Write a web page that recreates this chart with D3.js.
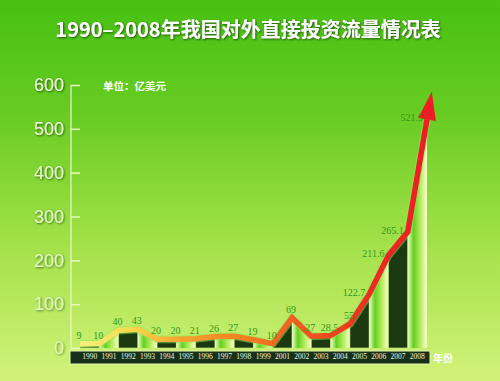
<!DOCTYPE html>
<html>
<head>
<meta charset="utf-8">
<script src="https://cdn.jsdelivr.net/npm/d3@7"></script>
<style>
  body { margin: 0; }
  svg { display: block; }
</style>
</head>
<body>
<div id="chart"></div>
<script>
// data (亿美元)
const years = [1990, 1991, 1992, 1993, 1994, 1995, 1996, 1997, 1998, 1999,
               2000, 2001, 2002, 2003, 2004, 2005, 2006, 2007, 2008];
const values = [9, 10, 40, 43, 20, 20, 21, 26, 27, 19,
                10, 69, 27, 28.5, 55, 122.7, 211.6, 265.1, 521.5];
const valueLabels = ["9", "10", "40", "43", "20", "20", "21", "26", "27", "19",
                     "10", "69", "27", "28.5", "55", "122.7", "211.6", "265.1", "521.5"];
// the strip under the chart has one label per stripe (no 2000)
const stripLabels = ["1990", "1991", "1992", "1993", "1994", "1995", "1996", "1997", "1998",
                     "1999", "2001", "2002", "2003", "2004", "2005", "2006", "2007", "2008"];
const yTicks = [0, 100, 200, 300, 400, 500, 600];

const W = 500, H = 381;
const svg = d3.select("#chart").append("svg")
  .attr("width", W)
  .attr("height", H);

const defs = svg.append("defs");

// background
const bg = defs.append("linearGradient").attr("id", "bg")
  .attr("x1", 0).attr("y1", 0).attr("x2", 0).attr("y2", 1);
bg.append("stop").attr("offset", "0").attr("stop-color", "#47c112");
bg.append("stop").attr("offset", "0.3").attr("stop-color", "#68cc22");
bg.append("stop").attr("offset", "0.65").attr("stop-color", "#a4e24a");
bg.append("stop").attr("offset", "1").attr("stop-color", "#d2f27a");

// light stripe
const lg = defs.append("linearGradient").attr("id", "lightStripe")
  .attr("x1", 0).attr("y1", 0).attr("x2", 1).attr("y2", 0);
lg.append("stop").attr("offset", "0").attr("stop-color", "#f4ffc4");
lg.append("stop").attr("offset", "0.3").attr("stop-color", "#62d020");
lg.append("stop").attr("offset", "0.65").attr("stop-color", "#b4ec5c");
lg.append("stop").attr("offset", "1").attr("stop-color", "#fbffd0");

const shadow = defs.append("filter").attr("id", "shadow")
  .attr("x", "-10%").attr("y", "-30%").attr("width", "120%").attr("height", "160%");
shadow.append("feDropShadow").attr("dx", 1).attr("dy", 1).attr("stdDeviation", 0.8)
  .attr("flood-color", "#1d4a08").attr("flood-opacity", 0.9);

svg.append("rect").attr("width", W).attr("height", H).attr("fill", "url(#bg)");

const x = d3.scalePoint().domain(years).range([80, 427]);
const y = d3.scaleLinear().domain([0, 600]).range([348, 85]);

// line colour gradient along x
const lineGrad = defs.append("linearGradient").attr("id", "lineGrad")
  .attr("gradientUnits", "userSpaceOnUse")
  .attr("x1", x(1990)).attr("y1", 0).attr("x2", x(2008)).attr("y2", 0);
[["0", "#f6f27c"], ["0.15", "#f7d84a"], ["0.3", "#f6a030"], ["0.5", "#f27a22"],
 ["0.7", "#f04a20"], ["0.85", "#ee2a22"], ["1", "#ee1c24"]].forEach(s =>
  lineGrad.append("stop").attr("offset", s[0]).attr("stop-color", s[1]));

// title
svg.append("text")
  .attr("x", 248).attr("y", 37)
  .attr("text-anchor", "middle")
  .attr("font-family", "'Noto Sans CJK SC', sans-serif")
  .attr("font-size", 20)
  .attr("font-weight", "bold")
  .attr("fill", "#ffffff")
  .attr("filter", "url(#shadow)")
  .text("1990–2008年我国对外直接投资流量情况表");

svg.append("text")
  .attr("x", 103).attr("y", 90)
  .attr("font-family", "'Noto Sans CJK SC', sans-serif")
  .attr("font-size", 10.5)
  .attr("font-weight", "bold")
  .attr("fill", "#ffffff")
  .text("单位：亿美元");

// y axis
const yAxis = svg.append("g")
  .attr("transform", "translate(71,0)")
  .call(d3.axisLeft(y).tickValues(yTicks).tickSize(-9).tickPadding(7));
yAxis.select(".domain").attr("stroke", "#eaf8c4").attr("stroke-width", 1.2)
  .attr("d", "M0,85V350");
yAxis.selectAll(".tick line").attr("stroke", "#eaf8c4").attr("stroke-width", 1.5);
yAxis.selectAll(".tick text")
  .attr("fill", "#f3fde2")
  .attr("font-family", "'Liberation Sans', Arial, sans-serif")
  .attr("font-size", 18)
  .attr("filter", "url(#shadow)")
  .attr("opacity", d => 0.65 + d / 1700);

// stripes under the line
const area = d3.area()
  .x(d => x(d.year))
  .y0(y(0))
  .y1(d => y(d.value));
const pts = years.map((yr, i) => ({ year: yr, value: values[i] }));
const stripes = d3.range(stripLabels.length).map(k => [pts[k], pts[k + 1]]);

svg.append("g").selectAll("path")
  .data(stripes)
  .join("path")
  .attr("d", area)
  .attr("fill", (d, k) => k % 2 === 0 ? "#1b3a12" : "url(#lightStripe)")
  .attr("stroke", (d, k) => k % 2 === 0 ? "#d8f48a" : "none")
  .attr("stroke-width", 0.6);

// x strip
svg.append("rect")
  .attr("x", 70).attr("y", 351)
  .attr("width", 360).attr("height", 13)
  .attr("fill", "#17301a")
  .attr("stroke", "#e6f7a8")
  .attr("stroke-width", 1);

const band = d3.scaleBand().domain(stripLabels).range([x(1990), x(2008)]);
const xAxis = svg.append("g")
  .attr("transform", "translate(0,351)")
  .call(d3.axisBottom(band).tickSize(0).tickPadding(3));
xAxis.select(".domain").remove();
xAxis.selectAll(".tick text")
  .attr("fill", "#eef4dc")
  .attr("font-family", "'Liberation Serif', serif")
  .attr("font-size", 7.5);

svg.append("text")
  .attr("x", 433).attr("y", 362)
  .attr("font-family", "'Noto Sans CJK SC', sans-serif")
  .attr("font-size", 10)
  .attr("font-weight", "bold")
  .attr("fill", "#ffffff")
  .text("年份");

// line
const line = d3.line().x(d => x(d.year)).y(d => y(d.value));
svg.append("path")
  .datum(pts)
  .attr("d", line)
  .attr("fill", "none")
  .attr("stroke", "#8ee85a")
  .attr("stroke-width", 8)
  .attr("stroke-linejoin", "round")
  .attr("opacity", 0.5);
svg.append("path")
  .datum(pts)
  .attr("d", line)
  .attr("fill", "none")
  .attr("stroke", "url(#lineGrad)")
  .attr("stroke-width", 5.5)
  .attr("stroke-linejoin", "miter");

// arrow head on the last segment
const a = pts[pts.length - 2], b = pts[pts.length - 1];
const ax = x(a.year), ay = y(a.value), bx = x(b.year), by = y(b.value);
const len = Math.hypot(bx - ax, by - ay);
const ux = (bx - ax) / len, uy = (by - ay) / len;
const tip = [bx + 28 * ux, by + 28 * uy];
const left = [bx - 9 * uy, by + 9 * ux];
const right = [bx + 9 * uy, by - 9 * ux];
svg.append("path")
  .attr("d", "M" + left + "L" + tip + "L" + right + "Z")
  .attr("fill", "#ee1c24");

// value labels
svg.append("g").selectAll("text")
  .data(pts)
  .join("text")
  .attr("x", (d, i) => i < 15 ? x(d.year) - 1 : x(d.year) - 4)
  .attr("y", (d, i) => i < 15 ? y(d.value) - 5 : y(d.value) + 2)
  .attr("text-anchor", (d, i) => i < 15 ? "middle" : "end")
  .attr("font-family", "'Liberation Serif', serif")
  .attr("font-size", 10)
  .attr("fill", "#2f9a1c")
  .text((d, i) => valueLabels[i]);
</script>
</body>
</html>
